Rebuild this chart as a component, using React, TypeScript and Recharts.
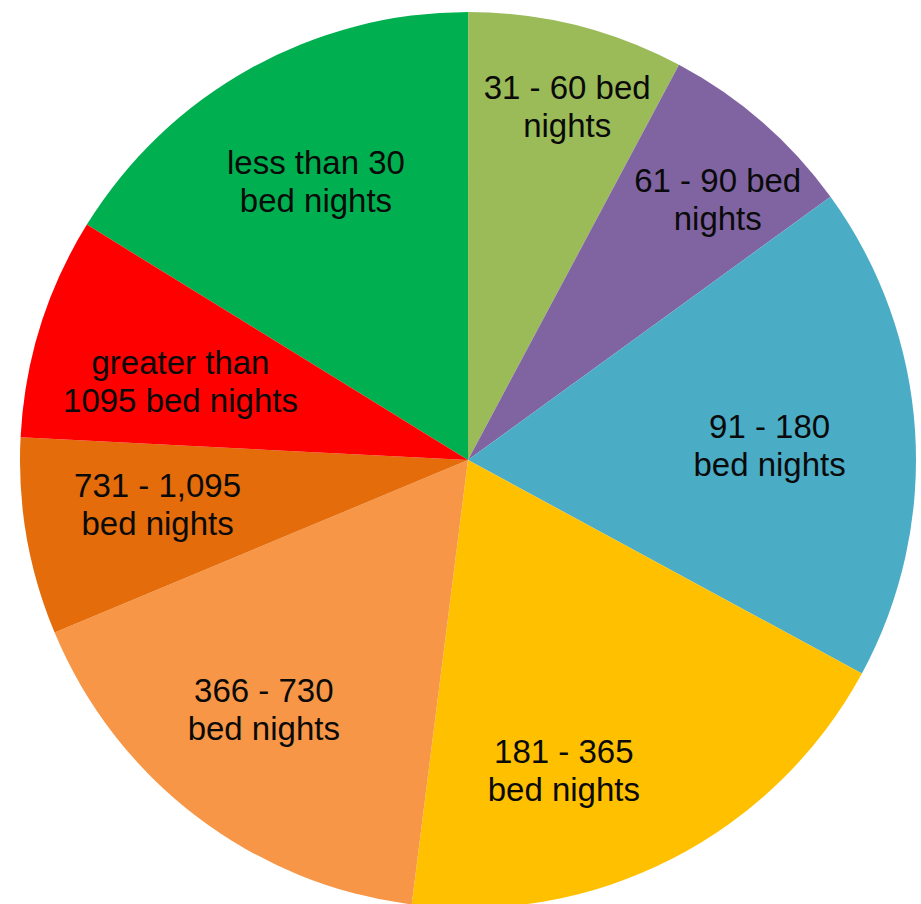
import React from "react";
import { PieChart, Pie, Cell } from "recharts";

const categories = [
  "less than 30\nbed nights",
  "31 - 60 bed\nnights",
  "61 - 90 bed\nnights",
  "91 - 180\nbed nights",
  "181 - 365\nbed nights",
  "366 - 730\nbed nights",
  "731 - 1,095\nbed nights",
  "greater than\n1095 bed nights",
];

const shares = [16.2, 7.8, 7.2, 17.9, 19.1, 16.7, 7.1, 8.0];

const colors = ["#00B050", "#9BBB59", "#8064A2", "#4BACC6", "#FFC000", "#F79646", "#E46C0A", "#FF0000"];

// label placement: radius as a fraction of the pie, and clockwise nudge in degrees
const labelRadius = [0.708, 0.82, 0.806, 0.674, 0.725, 0.72, 0.7, 0.665];
const labelShift = [0.5, 1.6, 2.7, 1, 10, 2, 1.7, -2.1];

const data = categories.map((name, i) => ({ name, value: shares[i] }));

const RAD = Math.PI / 180;

const renderLabel = (props: any) => {
  const { cx, cy, midAngle, outerRadius, index } = props;
  const angle = (midAngle - labelShift[index]) * RAD;
  const r = outerRadius * labelRadius[index];
  const x = cx + r * Math.cos(angle);
  const y = cy - r * Math.sin(angle);
  const lines = categories[index].split("\n");
  return (
    <text
      x={x}
      y={y}
      textAnchor="middle"
      fill="#0a0a0a"
      fontSize={33}
      fontFamily="'Liberation Sans', Arial, sans-serif"
    >
      {lines.map((line, k) => (
        <tspan key={k} x={x} y={y + (k - (lines.length - 1) / 2) * 38} dominantBaseline="central">
          {line}
        </tspan>
      ))}
    </text>
  );
};

const App: React.FC = () => {
  return (
    <div style={{ position: "absolute", left: 0, top: 0, width: 921, height: 904, background: "#fff" }}>
      <style>
        {`
          .recharts-pie-sectors { filter: drop-shadow(2px 3px 4px rgba(0,0,0,0.3)); }
        `}
      </style>
      <PieChart width={921} height={904} margin={{ top: 0, right: 0, bottom: 0, left: 0 }}>
        <Pie
          data={data}
          dataKey="value"
          nameKey="name"
          cx={468}
          cy={460}
          outerRadius={448}
          startAngle={148.3}
          endAngle={-211.7}
          stroke="none"
          label={renderLabel}
          labelLine={false}
          isAnimationActive={false}
        >
          {data.map((d, i) => (
            <Cell key={d.name} fill={colors[i]} />
          ))}
        </Pie>
      </PieChart>
    </div>
  );
};

export default App;
